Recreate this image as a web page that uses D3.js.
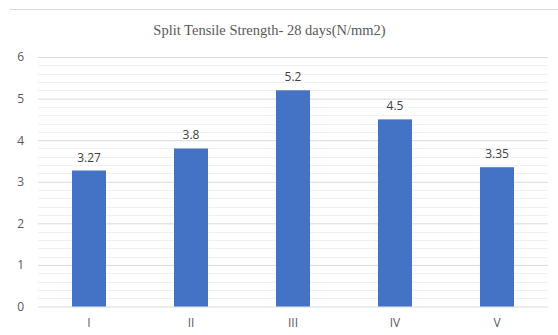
<!DOCTYPE html>
<html>
<head>
<meta charset="utf-8">
<script src="https://cdn.jsdelivr.net/npm/d3@7"></script>
<style>
  html, body { margin: 0; padding: 0; background: #fff; }
  svg { display: block; }
</style>
</head>
<body>
<svg id="chart" width="558" height="335"></svg>
<script>
// Split tensile strength at 28 days for five mixes
const categories = ["I", "II", "III", "IV", "V"];
const strengths = [3.27, 3.8, 5.2, 4.5, 3.35];
const yTicks = [0, 1, 2, 3, 4, 5, 6];
const titleText = "Split Tensile Strength- 28 days(N/mm2)";

const svg = d3.select("#chart");
const W = 558, H = 335;
const plot = { left: 38, right: 548, top: 57, bottom: 306.5 };

const x = d3.scaleBand()
  .domain(categories)
  .range([plot.left, plot.right])
  .paddingInner(2 / 3)
  .paddingOuter(1 / 3);

const y = d3.scaleLinear()
  .domain([0, 6])
  .range([plot.bottom, plot.top]);

// thin frame line across the top
svg.append("line")
  .attr("x1", 10).attr("x2", W)
  .attr("y1", 9.5).attr("y2", 9.5)
  .attr("stroke", "#d9d9d9").attr("stroke-width", 1);

// minor gridlines every 0.2
const minor = d3.range(0, 6.001, 0.2).filter(v => Math.abs(v - Math.round(v)) > 1e-6);
svg.append("g").selectAll("line")
  .data(minor)
  .join("line")
  .attr("x1", plot.left).attr("x2", plot.right)
  .attr("y1", d => Math.round(y(d)) + 0.5).attr("y2", d => Math.round(y(d)) + 0.5)
  .attr("stroke", "#f0f0f0").attr("stroke-width", 1);

// major gridlines and y tick labels via d3 axis
const yAxis = d3.axisLeft(y)
  .tickValues(yTicks)
  .tickSize(-(plot.right - plot.left))
  .tickPadding(14)
  .tickFormat(d3.format("d"));

const gy = svg.append("g")
  .attr("transform", `translate(${plot.left},0)`)
  .call(yAxis);
gy.select(".domain").remove();
gy.selectAll(".tick line").attr("stroke", "#d9d9d9");
gy.selectAll(".tick text")
  .attr("fill", "#595959")
  .attr("font-family", "'Open Sans', 'Noto Sans', sans-serif")
  .attr("font-size", 12);

// bars
svg.append("g").selectAll("rect")
  .data(strengths)
  .join("rect")
  .attr("x", (d, i) => x(categories[i]))
  .attr("width", x.bandwidth())
  .attr("y", d => y(d))
  .attr("height", d => y(0) - y(d))
  .attr("fill", "#4472c4");

// value labels
svg.append("g").selectAll("text")
  .data(strengths)
  .join("text")
  .attr("x", (d, i) => x(categories[i]) + x.bandwidth() / 2)
  .attr("y", d => y(d) - 9)
  .attr("text-anchor", "middle")
  .attr("fill", "#404040")
  .attr("font-family", "'Open Sans', 'Noto Sans', sans-serif")
  .attr("font-size", 12)
  .text(d => d);

// x axis category labels
const xAxis = d3.axisBottom(x).tickSize(0).tickPadding(12);
const gx = svg.append("g")
  .attr("transform", `translate(0,${plot.bottom})`)
  .call(xAxis);
gx.select(".domain").remove();
gx.selectAll(".tick text")
  .attr("fill", "#595959")
  .attr("font-family", "'Open Sans', 'Noto Sans', sans-serif")
  .attr("font-size", 12);

// title
svg.append("text")
  .attr("x", 269.5)
  .attr("y", 35)
  .attr("text-anchor", "middle")
  .attr("fill", "#595959")
  .attr("font-family", "'Liberation Serif', 'Times New Roman', serif")
  .attr("font-size", 14.5)
  .text(titleText);
</script>
</body>
</html>
